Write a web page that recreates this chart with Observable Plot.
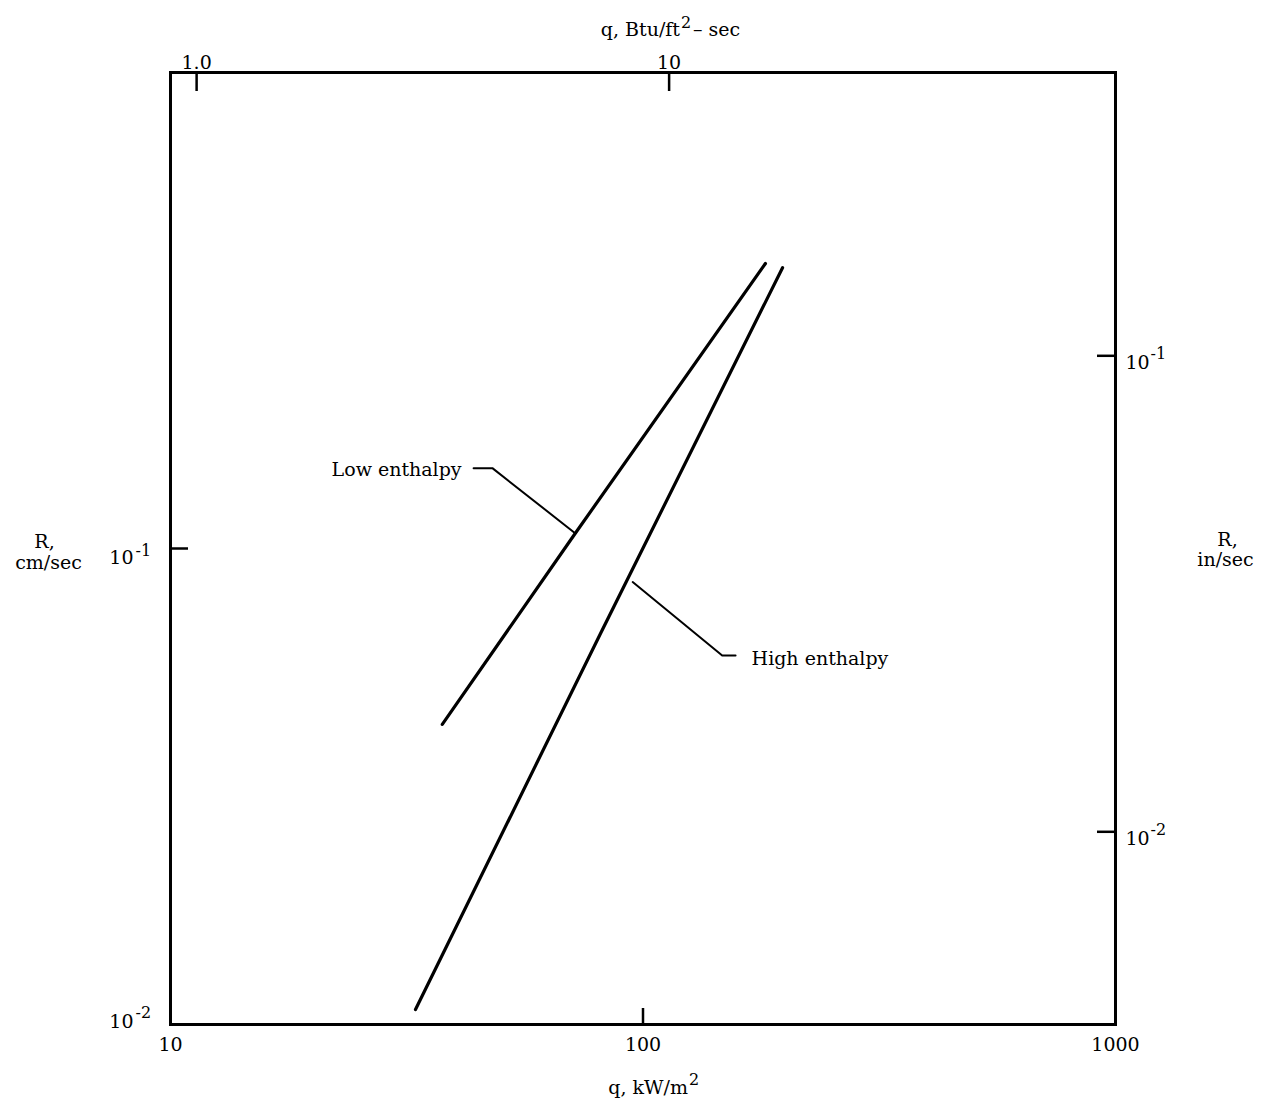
<!DOCTYPE html>
<html>
<head>
<meta charset="utf-8">
<script src="https://cdn.jsdelivr.net/npm/d3@7"></script>
<script src="https://cdn.jsdelivr.net/npm/@observablehq/plot@0.6"></script>
<style>
  html, body { margin: 0; padding: 0; background: white; }
  #chart { width: 1276px; height: 1108px; }
</style>
</head>
<body>
<div id="chart"></div>
<script>
// ---- data ----
// q in kW/m^2, R in cm/sec
const lowQ  = [37.6, 71.6, 181.6];
const lowR  = [0.0427, 0.1070, 0.397];
const highQ = [33.0, 81.3, 197.4];
const highR = [0.01075, 0.0663, 0.389];

const seriesLabels = ["Low enthalpy", "High enthalpy"];
// leader lines (label -> curve)
const lowLeaderQ  = [43.8, 48.0, 71.4];
const lowLeaderR  = [0.1475, 0.1475, 0.1082];
const highLeaderQ = [95.1, 147.1, 157.0];
const highLeaderR = [0.0850, 0.0596, 0.0596];

// axes
const bottomTicks = [10, 100, 1000];          // kW/m^2
const leftTicks = [0.01, 0.1];                 // cm/sec
const leftExp = ["-2", "-1"];
const topTicksBtu = [1.0, 10];                 // Btu/ft^2-sec
const topTickLabels = ["1.0", "10"];
const rightTicksIn = [0.01, 0.1];              // in/sec
const rightExp = ["-2", "-1"];
const BTU_TO_KW = 11.357;                      // 1 Btu/ft^2-s = 11.357 kW/m^2
const IN_TO_CM = 2.54;

const xTitle = ["q, kW/m", "2"];
const topTitle = ["q, Btu/ft", "2", "\u2013 sec"];
const yTitle = ["R,", "cm/sec"];
const y2Title = ["R,", "in/sec"];

// ---- build tables ----
const low = lowQ.map((q, i) => ({q, R: lowR[i]}));
const high = highQ.map((q, i) => ({q, R: highR[i]}));
const lowLeader = lowLeaderQ.map((q, i) => ({q, R: lowLeaderR[i]}));
const highLeader = highLeaderQ.map((q, i) => ({q, R: highLeaderR[i]}));
const topTicks = topTicksBtu.map((b, i) => ({q: b * BTU_TO_KW, label: topTickLabels[i]}));
const rightTicks = rightTicksIn.map((v, i) => ({R: v * IN_TO_CM, exp: rightExp[i]}));
const left = leftTicks.map((v, i) => ({R: v, exp: leftExp[i]}));

const F = 19, T = 19, S = 16;
const font = "DejaVu Serif";
const M = "middle";

const chart = Plot.plot({
  width: 1276,
  height: 1108,
  marginLeft: 170,
  marginRight: 161,
  marginTop: 72,
  marginBottom: 84,
  x: {type: "log", domain: [10, 1000], axis: null},
  y: {type: "log", domain: [0.01, 1], axis: null},
  style: {fontFamily: font, fontSize: T + "px", background: "white", color: "black"},
  marks: [
    Plot.frame({stroke: "black", strokeWidth: 3}),
    // inward ticks
    Plot.tickX(bottomTicks.filter(v => v > 10 && v < 1000), {x: d => d, insetTop: 936, strokeWidth: 2.5}),
    Plot.tickX(topTicks, {x: "q", insetBottom: 933, strokeWidth: 2.5}),
    Plot.tickY(leftTicks.filter(v => v > 0.01 && v < 1), {y: d => d, insetRight: 927, strokeWidth: 2.5}),
    Plot.tickY(rightTicks, {y: "R", insetLeft: 927, strokeWidth: 2.5}),
    // bottom tick labels
    Plot.text(bottomTicks, {x: d => d, frameAnchor: "bottom", lineAnchor: M, dy: 20, text: d => String(d), fontSize: T}),
    // top tick labels
    Plot.text(topTicks, {x: "q", frameAnchor: "top", lineAnchor: M, dy: -10, text: "label", fontSize: T}),
    // left tick labels 10^n
    Plot.text(left.filter(d => d.R === 0.1), {y: "R", frameAnchor: "left", lineAnchor: M, dx: -37, dy: 9.5, text: () => "10", textAnchor: "end", fontSize: T}),
    Plot.text(left.filter(d => d.R === 0.1), {y: "R", frameAnchor: "left", lineAnchor: M, dx: -35, dy: 2, text: "exp", textAnchor: "start", fontSize: S}),
    Plot.text(left.filter(d => d.R === 0.01), {y: "R", frameAnchor: "left", lineAnchor: M, dx: -37, dy: -3, text: () => "10", textAnchor: "end", fontSize: T}),
    Plot.text(left.filter(d => d.R === 0.01), {y: "R", frameAnchor: "left", lineAnchor: M, dx: -35, dy: -12, text: "exp", textAnchor: "start", fontSize: S}),
    // right tick labels
    Plot.text(rightTicks, {y: "R", frameAnchor: "right", lineAnchor: M, dx: 10, dy: 7, text: () => "10", textAnchor: "start", fontSize: T}),
    Plot.text(rightTicks, {y: "R", frameAnchor: "right", lineAnchor: M, dx: 35, dy: -2, text: "exp", textAnchor: "start", fontSize: S}),
    // axis titles
    Plot.text([xTitle[0]], {frameAnchor: "bottom", lineAnchor: M, dx: 45, dy: 63, text: d => d, textAnchor: "end", fontSize: F}),
    Plot.text([xTitle[1]], {frameAnchor: "bottom", lineAnchor: M, dx: 46, dy: 55, text: d => d, textAnchor: "start", fontSize: S}),
    Plot.text([topTitle[0]], {frameAnchor: "top", lineAnchor: M, dx: 37, dy: -43, text: d => d, textAnchor: "end", fontSize: F}),
    Plot.text([topTitle[1]], {frameAnchor: "top", lineAnchor: M, dx: 38, dy: -50, text: d => d, textAnchor: "start", fontSize: S}),
    Plot.text([topTitle[2]], {frameAnchor: "top", lineAnchor: M, dx: 50, dy: -43, text: d => d, textAnchor: "start", fontSize: F}),
    Plot.text([yTitle[0]], {frameAnchor: "left", lineAnchor: M, dx: -126, dy: -7, text: d => d, textAnchor: "middle", fontSize: F}),
    Plot.text([yTitle[1]], {frameAnchor: "left", lineAnchor: M, dx: -122, dy: 14, text: d => d, textAnchor: "middle", fontSize: F}),
    Plot.text([y2Title[0]], {frameAnchor: "right", lineAnchor: M, dx: 112, dy: -9, text: d => d, textAnchor: "middle", fontSize: F}),
    Plot.text([y2Title[1]], {frameAnchor: "right", lineAnchor: M, dx: 110, dy: 11, text: d => d, textAnchor: "middle", fontSize: F}),
    // curves
    Plot.line(low, {x: "q", y: "R", stroke: "black", strokeWidth: 3.2}),
    Plot.line(high, {x: "q", y: "R", stroke: "black", strokeWidth: 3.2}),
    // leaders
    Plot.line(lowLeader, {x: "q", y: "R", stroke: "black", strokeWidth: 2}),
    Plot.line(highLeader, {x: "q", y: "R", stroke: "black", strokeWidth: 2}),
    // series labels
    Plot.text([seriesLabels[0]], {x: () => lowLeaderQ[0], y: () => lowLeaderR[0], lineAnchor: M, text: d => d, textAnchor: "end", dx: -12, dy: 2, fontSize: F}),
    Plot.text([seriesLabels[1]], {x: () => highLeaderQ[2], y: () => highLeaderR[2], lineAnchor: M, text: d => d, textAnchor: "start", dx: 16, dy: 3, fontSize: F})
  ]
});
document.getElementById("chart").appendChild(chart);
</script>
</body>
</html>
